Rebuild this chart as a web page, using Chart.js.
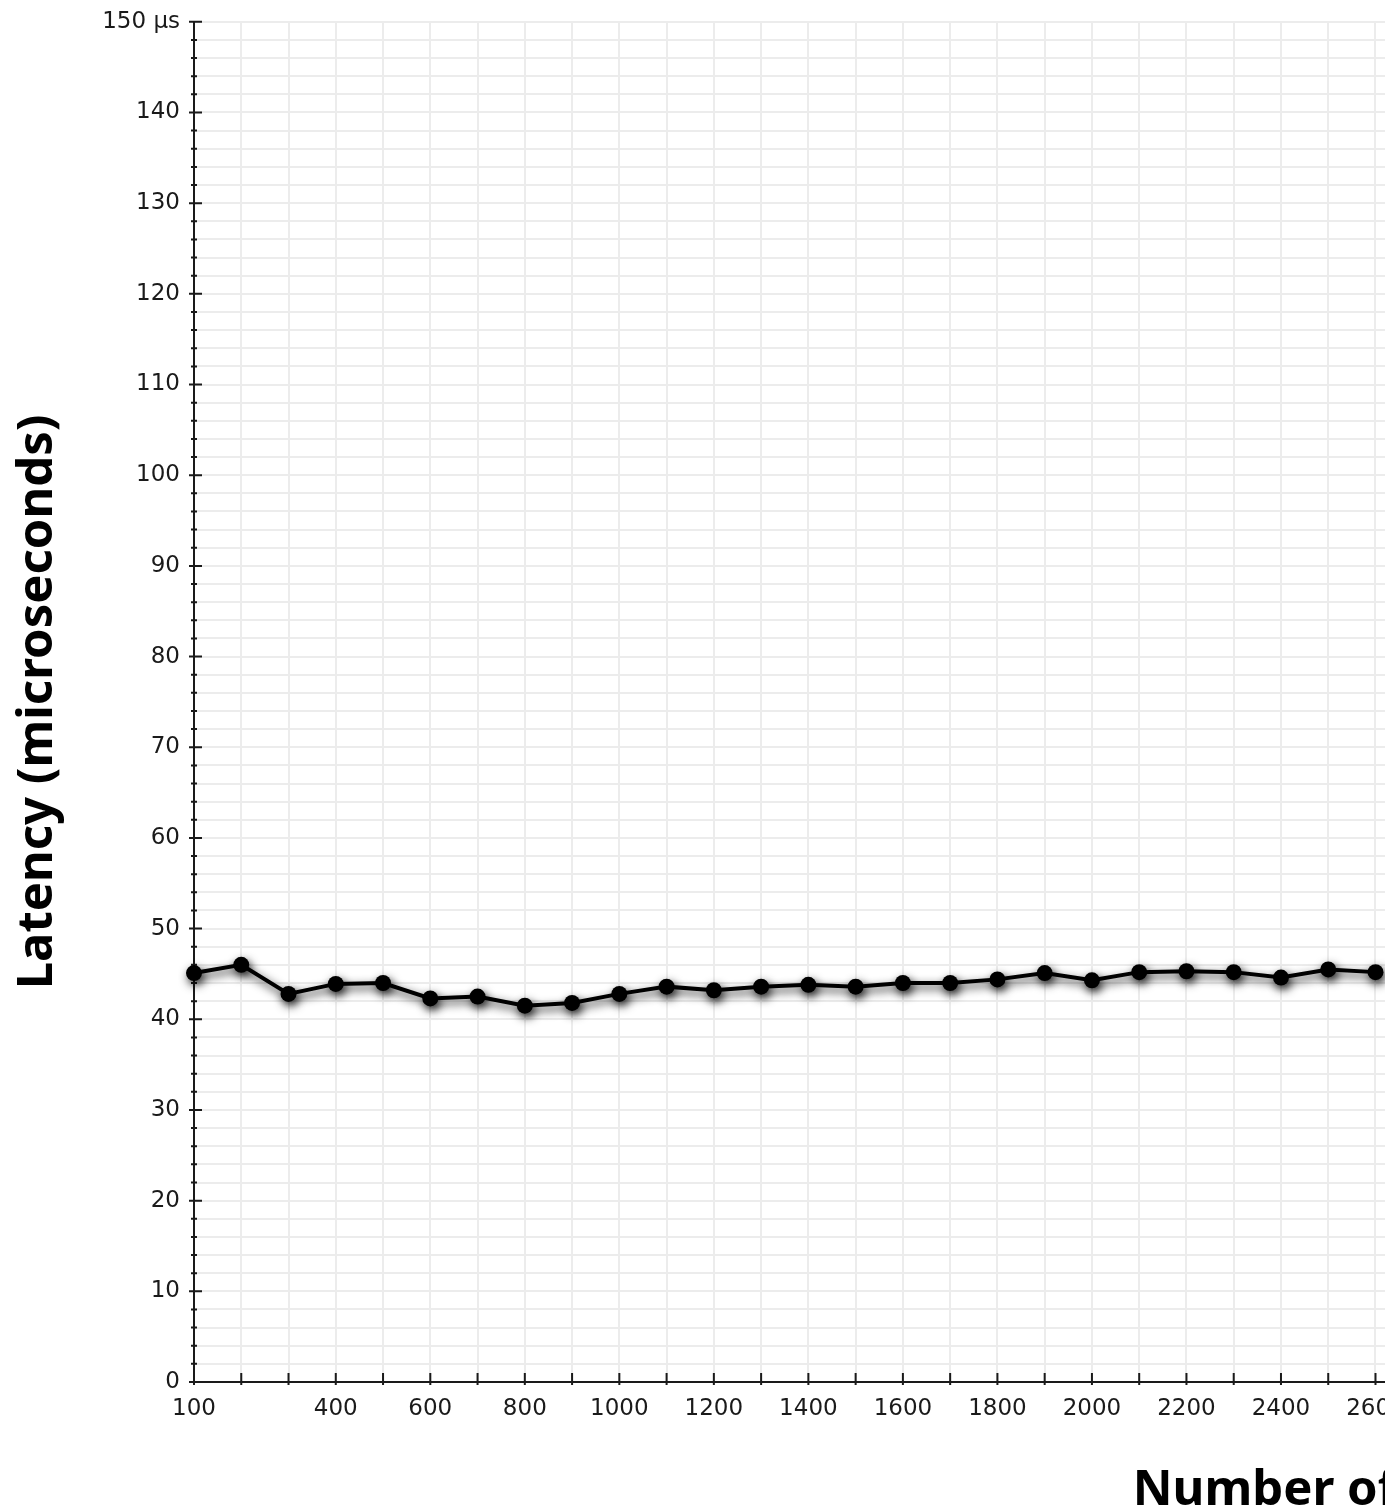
<!DOCTYPE html>
<html>
<head>
<meta charset="utf-8">
<title>Latency</title>
<script src="https://cdn.jsdelivr.net/npm/chart.js@4/dist/chart.umd.min.js"></script>
<style>
  html, body { margin: 0; padding: 0; background: #fff; }
  #wrap { width: 1385px; height: 1512px; overflow: hidden; position: relative; }
  #chart { display: block; margin-top: -6px; }
</style>
</head>
<body>
<div id="wrap"><canvas id="chart" width="2552" height="1518"></canvas></div>
<script>
'use strict';

// ── Data ─────────────────────────────────────────────────────────
const clients = [100, 200, 300, 400, 500, 600, 700, 800, 900, 1000, 1100, 1200, 1300,
                 1400, 1500, 1600, 1700, 1800, 1900, 2000, 2100, 2200, 2300, 2400, 2500, 2600];
const latency = [45.1, 46.0, 42.8, 43.9, 44.0, 42.3, 42.5, 41.5, 41.8, 42.8, 43.6, 43.2, 43.6,
                 43.8, 43.6, 44.0, 44.0, 44.4, 45.1, 44.3, 45.2, 45.3, 45.2, 44.6, 45.5, 45.2];
const xSkipLabels = [200];          // tick that carries no label
const yUnitLabel = '150 µs';

const INK = '#1a1a1a';
const GRID = '#ececec';

// ── Tick marks that cross the axis lines + soft shadow on series ──
const axisDecor = {
  id: 'axisDecor',
  beforeDatasetsDraw(chart) {
    const { ctx, scales: { x, y } } = chart;
    const ax = y.right, ay = x.top;
    ctx.save();
    ctx.strokeStyle = INK;
    ctx.lineWidth = 2;
    ctx.beginPath();
    y.ticks.forEach((t, i) => {
      const py = y.getPixelForTick(i);
      const major = t.value % 10 === 0;
      ctx.moveTo(ax - (major ? 5 : 3), py);
      ctx.lineTo(ax + (major ? 8 : 3), py);
    });
    x.ticks.forEach((t, i) => {
      const px = x.getPixelForTick(i);
      ctx.moveTo(px, ay - 9);
      ctx.lineTo(px, ay + 3);
    });
    ctx.stroke();
    ctx.restore();

    ctx.save();
    ctx.shadowColor = 'rgba(0,0,0,0.85)';
    ctx.shadowBlur = 10;
    ctx.shadowOffsetX = 2;
    ctx.shadowOffsetY = 4;
  },
  afterDatasetsDraw(chart) {
    chart.ctx.restore();
  }
};

const tickFont = { family: "'DejaVu Sans', sans-serif", size: 23 };
const titleFont = { family: "'Noto Sans', sans-serif", size: 49, weight: 'bold', lineHeight: 0.85 };

new Chart(document.getElementById('chart'), {
  type: 'line',
  data: {
    datasets: [{
      data: clients.map((c, i) => ({ x: c, y: latency[i] })),
      borderColor: '#000',
      borderWidth: 4,
      backgroundColor: '#000',
      pointBackgroundColor: '#000',
      pointBorderColor: '#000',
      pointRadius: 8,
      pointBorderWidth: 0,
      tension: 0,
      clip: false
    }]
  },
  options: {
    responsive: false,
    animation: false,
    devicePixelRatio: 1,
    layout: { padding: { top: 15, right: 40, bottom: 0, left: 0 } },
    plugins: { legend: { display: false }, tooltip: { enabled: false } },
    scales: {
      x: {
        type: 'linear',
        min: 100,
        max: 5000,
        afterFit(s) { s.height = 130; },
        grid: { color: GRID, lineWidth: 2, drawTicks: false },
        border: { color: INK, width: 2 },
        ticks: {
          stepSize: 100,
          autoSkip: false,
          maxRotation: 0,
          padding: 13,
          color: INK,
          font: tickFont,
          callback: v => (v === 100 || (v % 200 === 0 && !xSkipLabels.includes(v))) ? String(v) : ''
        },
        title: {
          display: true,
          text: 'Number of clients',
          color: '#000',
          font: titleFont,
          padding: { top: 0, bottom: 0 }
        }
      },
      y: {
        min: 0,
        max: 150,
        afterFit(s) { s.width = 194; },
        grid: { color: GRID, lineWidth: 2, drawTicks: false },
        border: { color: INK, width: 2 },
        ticks: {
          stepSize: 2,
          autoSkip: false,
          padding: 14,
          color: INK,
          font: tickFont,
          callback: v => v % 10 !== 0 ? '' : (v === 150 ? yUnitLabel : String(v))
        },
        title: {
          display: true,
          text: 'Latency (microseconds)',
          color: '#000',
          font: titleFont,
          padding: { top: 17, bottom: 0 }
        }
      }
    }
  },
  plugins: [axisDecor]
});
</script>
</body>
</html>
